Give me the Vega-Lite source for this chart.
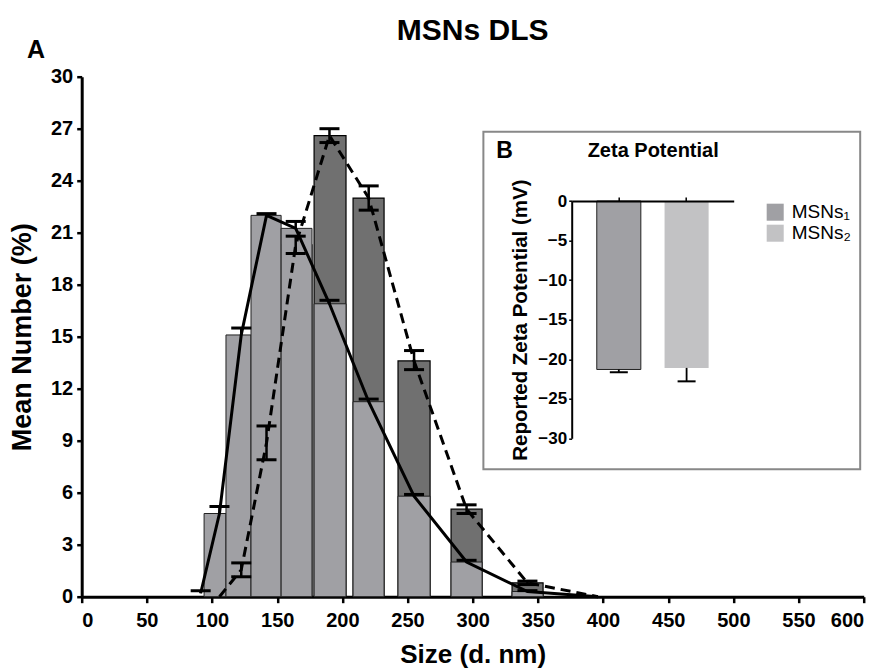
{
  "$schema": "https://vega.github.io/schema/vega-lite/v6.json",
  "width": 782,
  "height": 520,
  "autosize": "none",
  "padding": {"left": 81.7, "top": 76.7, "right": 21.3, "bottom": 71.3},
  "background": "white",
  "title": {"text": "MSNs DLS", "fontSize": 30, "fontWeight": "bold", "font": "Liberation Sans", "color": "black", "anchor": "middle", "frame": "group", "baseline": "alphabetic", "offset": -32},
  "datasets": {
    "dls": [
      {"series": "MSNs1", "size": 91.28, "mean": 0.2, "lo": 0.2, "hi": 0.35},
      {"series": "MSNs1", "size": 105.7, "x0": 93.9, "x1": 110.7, "mean": 4.8, "lo": 4.8, "hi": 5.2},
      {"series": "MSNs1", "size": 122.4, "x0": 110.7, "x1": 129.9, "mean": 15.1, "lo": 15.1, "hi": 15.5},
      {"series": "MSNs1", "size": 141.8, "x0": 129.9, "x1": 153.0, "mean": 22.0, "lo": 22.0, "hi": 22.1},
      {"series": "MSNs1", "size": 164.2, "x0": 153.0, "x1": 176.7, "mean": 21.25, "lo": 21.25, "hi": 21.65},
      {"series": "MSNs1", "size": 190.1, "x0": 178.3, "x1": 202.8, "mean": 16.9, "lo": 16.9, "hi": 17.1},
      {"series": "MSNs1", "size": 220.2, "x0": 208.2, "x1": 232.0, "mean": 11.25, "lo": 11.25, "hi": 11.4},
      {"series": "MSNs1", "size": 255.0, "x0": 242.7, "x1": 267.3, "mean": 5.8, "lo": 5.8, "hi": 5.9},
      {"series": "MSNs1", "size": 295.3, "x0": 283.4, "x1": 307.2, "mean": 2.0, "lo": 2.0, "hi": 2.1},
      {"series": "MSNs1", "size": 342.0, "x0": 330.2, "x1": 354.0, "mean": 0.3, "lo": 0.3, "hi": 0.35},
      {"series": "MSNs1", "size": 396.1, "mean": 0, "lo": 0, "hi": 0},
      {"series": "MSNs2", "size": 105.7, "mean": 0, "lo": 0, "hi": 0},
      {"series": "MSNs2", "size": 122.4, "x0": 110.7, "x1": 129.9, "mean": 1.55, "lo": 1.15, "hi": 1.95},
      {"series": "MSNs2", "size": 141.8, "x0": 129.9, "x1": 153.0, "mean": 8.87, "lo": 7.9, "hi": 9.85},
      {"series": "MSNs2", "size": 164.2, "x0": 153.0, "x1": 176.7, "mean": 20.3, "lo": 19.8, "hi": 20.8},
      {"series": "MSNs2", "size": 190.1, "x0": 178.3, "x1": 202.8, "mean": 26.6, "lo": 26.2, "hi": 27.0},
      {"series": "MSNs2", "size": 220.2, "x0": 208.2, "x1": 232.0, "mean": 23.0, "lo": 22.3, "hi": 23.7},
      {"series": "MSNs2", "size": 255.0, "x0": 242.7, "x1": 267.3, "mean": 13.6, "lo": 13.1, "hi": 14.2},
      {"series": "MSNs2", "size": 295.3, "x0": 283.4, "x1": 307.2, "mean": 5.05, "lo": 4.8, "hi": 5.3},
      {"series": "MSNs2", "size": 342.0, "x0": 330.2, "x1": 354.0, "mean": 0.8, "lo": 0.7, "hi": 0.9},
      {"series": "MSNs2", "size": 396.1, "mean": 0, "lo": 0, "hi": 0}
    ],
    "zeta": [
      {"series": "MSNs₁", "mean": -21.3, "tip": -21.65},
      {"series": "MSNs₂", "mean": -21.1, "tip": -22.8}
    ]
  },
  "layer": [
    {
      "layer": [
        {
          "data": {"name": "dls"},
          "transform": [{"filter": "datum.series == 'MSNs2' && isValid(datum.x0)"}],
          "mark": {"type": "bar", "fill": "#707070", "stroke": "black", "strokeWidth": 1.2},
          "encoding": {
            "x": {"field": "x0", "type": "quantitative", "scale": {"domain": [0, 600], "nice": false, "zero": false},
              "axis": {"orient": "bottom", "values": [0, 50, 100, 150, 200, 250, 300, 350, 400, 450, 500, 550, 600], "labelFontSize": 20, "labelFontWeight": "bold", "tickSize": 6, "tickWidth": 2.5, "domainWidth": 3, "labelPadding": 8, "title": "Size (d. nm)", "titleFontSize": 26, "titleFontWeight": "bold", "titlePadding": 11}},
            "x2": {"field": "x1"},
            "y": {"field": "mean", "type": "quantitative", "scale": {"domain": [0, 30], "nice": false},
              "axis": {"orient": "left", "values": [0, 3, 6, 9, 12, 15, 18, 21, 24, 27, 30], "labelFontSize": 20, "labelFontWeight": "bold", "tickSize": 5, "tickWidth": 2.5, "domainWidth": 3, "labelPadding": 4, "title": "Mean Number (%)", "titleFontSize": 27, "titleFontWeight": "bold", "titlePadding": 14}},
            "y2": {"datum": 0}
          }
        },
        {
          "data": {"name": "dls"},
          "transform": [{"filter": "datum.series == 'MSNs1' && isValid(datum.x0)"}],
          "mark": {"type": "bar", "fill": "#a0a0a4", "stroke": "#222222", "strokeWidth": 1},
          "encoding": {
            "x": {"field": "x0", "type": "quantitative"},
            "x2": {"field": "x1"},
            "y": {"field": "mean", "type": "quantitative"},
            "y2": {"datum": 0}
          }
        },
        {
          "data": {"values": [{"box": "inset"}]},
          "mark": {"type": "rect", "filled": false, "stroke": "#888888", "strokeWidth": 2},
          "encoding": {
            "x": {"datum": 308.2, "type": "quantitative"},
            "x2": {"datum": 597.3},
            "y": {"datum": 26.83, "type": "quantitative"},
            "y2": {"datum": 7.35}
          }
        },
        {
          "data": {"name": "dls"},
          "transform": [{"filter": "datum.series == 'MSNs1'"}],
          "mark": {"type": "line", "color": "black", "strokeWidth": 3},
          "encoding": {
            "x": {"field": "size", "type": "quantitative"},
            "y": {"field": "mean", "type": "quantitative"}
          }
        },
        {
          "data": {"name": "dls"},
          "transform": [{"filter": "datum.series == 'MSNs2'"}],
          "mark": {"type": "line", "color": "black", "strokeWidth": 3, "strokeDash": [10, 6]},
          "encoding": {
            "x": {"field": "size", "type": "quantitative"},
            "y": {"field": "mean", "type": "quantitative"}
          }
        },
        {
          "data": {"name": "dls"},
          "transform": [{"filter": "datum.hi > datum.lo"}],
          "mark": {"type": "rule", "color": "black", "strokeWidth": 2.5},
          "encoding": {
            "x": {"field": "size", "type": "quantitative"},
            "y": {"field": "lo", "type": "quantitative"},
            "y2": {"field": "hi"}
          }
        },
        {
          "data": {"name": "dls"},
          "transform": [{"filter": "datum.hi > datum.mean"}],
          "mark": {"type": "tick", "orient": "horizontal", "color": "black", "size": 20, "thickness": 3, "opacity": 1},
          "encoding": {
            "x": {"field": "size", "type": "quantitative"},
            "y": {"field": "hi", "type": "quantitative"}
          }
        },
        {
          "data": {"name": "dls"},
          "transform": [{"filter": "datum.lo < datum.mean"}],
          "mark": {"type": "tick", "orient": "horizontal", "color": "black", "size": 20, "thickness": 3, "opacity": 1},
          "encoding": {
            "x": {"field": "size", "type": "quantitative"},
            "y": {"field": "lo", "type": "quantitative"}
          }
        },
        {
          "data": {"values": [{"label": "A"}]},
          "mark": {"type": "text", "align": "left", "baseline": "alphabetic", "fontSize": 25, "fontWeight": "bold", "color": "black"},
          "encoding": {
            "x": {"datum": -42, "type": "quantitative"},
            "y": {"datum": 31.08, "type": "quantitative"},
            "text": {"field": "label"}
          }
        },
        {
          "data": {"values": [{"label": "B"}]},
          "mark": {"type": "text", "align": "left", "baseline": "alphabetic", "fontSize": 23, "fontWeight": "bold", "color": "black"},
          "encoding": {
            "x": {"datum": 318.0, "type": "quantitative"},
            "y": {"datum": 25.31, "type": "quantitative"},
            "text": {"field": "label"}
          }
        }
      ]
    },
    {
      "data": {"name": "zeta"},
      "layer": [
        {
          "mark": {"type": "bar", "strokeWidth": 1},
          "encoding": {
            "x": {"field": "series", "type": "nominal", "sort": null,
              "scale": {"domain": ["MSNs₁", "MSNs₂"], "range": [490, 652], "paddingInner": 0.35, "paddingOuter": 0.37},
              "axis": {"orient": "top", "offset": -124.3, "zindex": 1, "labels": false, "ticks": true, "tickSize": 4, "tickWidth": 1.5, "domainWidth": 2, "title": "Zeta Potential", "titleFontSize": 20, "titleFontWeight": "bold", "titlePadding": 36}},
            "y": {"field": "mean", "type": "quantitative",
              "scale": {"domain": [-30, 0], "range": [361.6, 124.3], "nice": false, "zero": false},
              "axis": {"orient": "left", "offset": -490, "zindex": 1, "values": [0, -5, -10, -15, -20, -25, -30], "labelFontSize": 17, "labelFontWeight": "bold", "tickSize": 3, "tickWidth": 1.5, "domainWidth": 2, "labelPadding": 2, "title": "Reported Zeta Potential (mV)", "titleFontSize": 20.5, "titleFontWeight": "bold", "titlePadding": 7}},
            "y2": {"datum": 0},
            "stroke": {"condition": {"test": "datum.series === 'MSNs₁'", "value": "#222222"}, "value": null},
            "fill": {"field": "series", "type": "nominal",
              "scale": {"domain": ["MSNs₁", "MSNs₂"], "range": ["#a0a0a4", "#c2c2c4"]},
              "legend": {"orient": "none", "legendX": 684, "legendY": 126, "title": null, "symbolType": "square", "symbolSize": 290, "symbolStrokeWidth": 0, "symbolOpacity": 1, "labelFontSize": 19, "labelFont": "Liberation Sans", "labelColor": "black", "labelOffset": 7, "rowPadding": 1, "padding": 0,
                "encode": {"symbols": {"fill": {"condition": {"test": "datum.value === 'MSNs₁'", "value": "#a0a0a4"}, "value": "#c2c2c4"}, "stroke": {"condition": {"test": "datum.value === 'MSNs₁'", "value": "#444444"}, "value": "#c2c2c4"}, "strokeWidth": {"value": 1}, "opacity": {"value": 1}}}}}
          }
        },
        {
          "mark": {"type": "rule", "color": "black", "strokeWidth": 1.8},
          "encoding": {
            "x": {"field": "series", "type": "nominal"},
            "y": {"field": "mean", "type": "quantitative"},
            "y2": {"field": "tip"}
          }
        },
        {
          "mark": {"type": "tick", "orient": "horizontal", "color": "black", "size": 18, "thickness": 2, "opacity": 1},
          "encoding": {
            "x": {"field": "series", "type": "nominal"},
            "y": {"field": "tip", "type": "quantitative"}
          }
        }
      ]
    }
  ],
  "resolve": {"scale": {"x": "independent", "y": "independent"}},
  "config": {
    "view": {"stroke": null},
    "font": "Liberation Sans",
    "axis": {"domainColor": "black", "tickColor": "black", "labelColor": "black", "titleColor": "black", "grid": false, "labelFont": "Liberation Sans", "titleFont": "Liberation Sans"}
  }
}
